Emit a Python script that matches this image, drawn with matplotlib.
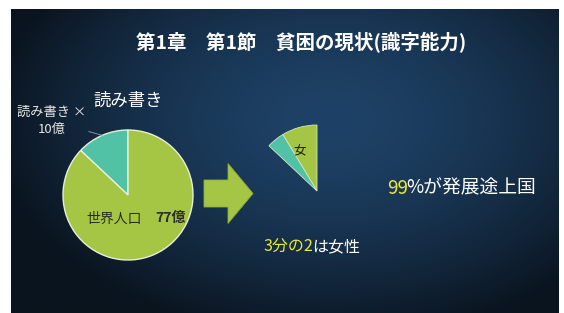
import numpy as np
import matplotlib.pyplot as plt
import matplotlib.patches as mpatches

plt.rcParams['font.family'] = ['Noto Sans CJK JP', 'DejaVu Sans']

# data
world_pop = 77          # 億人
illiterate = 10         # 億人
women_share = 2 / 3
developing_share = 99   # %

title = '第1章　第1節　貧困の現状(識字能力)'
green = '#a5c545'
teal = '#52c2a6'
yellow = '#e9e93a'

W, H = 564, 313
fig = plt.figure(figsize=(W / 100, H / 100), dpi=100, facecolor='white')

# slide background (pixel coordinates)
left, top = 11, 9
bg = fig.add_axes([left / W, 0, (W - left - 5) / W, (H - top) / H])
bg.set_xlim(left, W - 5)
bg.set_ylim(H, top)
bg.axis('off')
xx, yy = np.meshgrid(np.linspace(left, W - 5, 300), np.linspace(top, H, 200))
d = np.sqrt(((xx - 330) / 340) ** 2 + ((yy - 120) / 220) ** 2)
d = np.clip(d, 0, 1) ** 1.6
c0 = np.array([0x1e, 0x42, 0x67]) / 255
c1 = np.array([0x0a, 0x14, 0x1f]) / 255
img = c0[None, None, :] * (1 - d[..., None]) + c1[None, None, :] * d[..., None]
bg.imshow(img, extent=(left, W - 5, H, top), aspect='auto', zorder=0)

bg.text(301, 43, title, color='white', fontsize=14, fontweight='bold',
        ha='center', va='center')
bg.text(128, 101, '読み書き', color='white', fontsize=12.5, ha='center', va='center')


def pie_axes(cx, cy, r):
    return fig.add_axes([(cx - r) / W, (H - cy - r) / H, 2 * r / W, 2 * r / H])


# big pie: world population
pa = pie_axes(128, 195, 65)
pa.pie([illiterate, world_pop - illiterate], colors=[teal, green], startangle=90,
       wedgeprops=dict(edgecolor='#e8efd8', linewidth=1))
pa.set_xlim(-1, 1)
pa.set_ylim(-1, 1)
pa.text(-0.64, -0.36, '世界人口', color='#2b2f1c', fontsize=10, ha='left', va='center')
pa.text(0.42, -0.36, f'{world_pop}億', color='#2b2f1c', fontsize=10,
        fontweight='bold', ha='left', va='center')

mid = np.deg2rad(90 + 180 * illiterate / world_pop)
pa.annotate(f'読み書き ×\n{illiterate}億', xy=(np.cos(mid), np.sin(mid)),
            xytext=(-1.18, 1.14), color='#e6e6e6', fontsize=9.5, ha='center',
            va='center', linespacing=1.35,
            arrowprops=dict(arrowstyle='-', color='#9aa3ad', lw=0.6,
                            shrinkA=12, shrinkB=0))

# arrow
bg.add_patch(mpatches.FancyArrow(204, 193.5, 49, 0, width=27, head_width=60,
                                 head_length=25, length_includes_head=True,
                                 facecolor=green, edgecolor='#8fae35', lw=0.6))

# wedge of illiterate population split by sex
pb = pie_axes(317, 191, 66)
women = illiterate * women_share
men = illiterate - women
wedges, texts = pb.pie([women, men, world_pop - illiterate], colors=[green, teal, 'none'],
                       startangle=90, wedgeprops=dict(edgecolor='#d8e6c0', linewidth=0.6),
                       labels=['女', '', ''], labeldistance=0.62)
wedges[2].set_visible(False)
texts[0].set_color('#1a1a1a')
texts[0].set_fontsize(9)
pb.set_xlim(-1, 1)
pb.set_ylim(-1, 1)

t1 = bg.text(263, 247, '3分の2', color=yellow, fontsize=11.5, ha='left', va='center')
bg.annotate('は女性', xy=(1, 0.5), xycoords=t1, xytext=(-0.5, 0), textcoords='offset points',
            color='white', fontsize=11.5, ha='left', va='center')

t2 = bg.text(387, 188, f'{developing_share}', color=yellow, fontsize=13.5,
             ha='left', va='center')
bg.annotate('%が発展途上国', xy=(1, 0.5), xycoords=t2, xytext=(-1, 0),
            textcoords='offset points', color='white', fontsize=13.5,
            ha='left', va='center')

fig.savefig('out.png', dpi=100, facecolor=fig.get_facecolor())
